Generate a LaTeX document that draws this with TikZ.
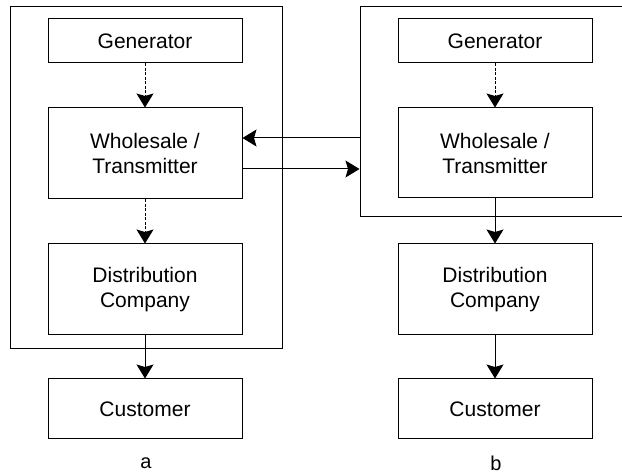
\documentclass[tikz,border=0pt]{standalone}
\usepackage{fontspec}
\setmainfont{Liberation Sans}
\usetikzlibrary{arrows.meta}
\begin{document}
\begin{tikzpicture}[x=1pt,y=-1pt,
  block/.style={draw, line width=1pt, minimum width=194pt, align=center,
    font=\fontsize{21}{25}\selectfont, inner sep=0pt},
  group/.style={draw, line width=1pt, inner sep=0pt},
  arr/.style={line width=1pt, -{Stealth[length=14pt,width=17pt,inset=2.5pt]}},
  dasharr/.style={arr, dash pattern=on 3pt off 1.5pt},
  caption/.style={font=\fontsize{20}{24}\selectfont}
]
\useasboundingbox (0,0) rectangle (622,473);

% enclosing groups
\node[group, minimum width=272pt, minimum height=342pt] (ga) at (146,178) {};
\node[group, minimum width=265pt, minimum height=210pt] (gb) at (492.5,112) {};

% column a
\node[block, minimum height=44pt] (gena) at (145,41) {Generator};
\node[block, minimum height=91pt] (wa) at (145,153.5) {Wholesale /\\Transmitter};
\node[block, minimum height=91pt] (da) at (145,289.5) {Distribution\\Company};
\node[block, minimum height=60pt] (ca) at (145,409) {Customer};
\node[caption] (la) at (146,463) {a};

% column b
\node[block, minimum height=44pt] (genb) at (495,41) {Generator};
\node[block, minimum height=90pt] (wb) at (495,153) {Wholesale /\\Transmitter};
\node[block, minimum height=91pt] (db) at (495,289.5) {Distribution\\Company};
\node[block, minimum height=60pt] (cb) at (495,409) {Customer};
\node[caption] (lb) at (496,463) {b};

% flows in column a
\draw[dasharr] (gena) -- (wa);
\draw[dasharr] (wa) -- (da);
\draw[arr] (da) -- (ca);

% flows in column b
\draw[dasharr] (genb) -- (wb);
\draw[arr] (wb) -- (db);
\draw[arr] (db) -- (cb);

% exchange between the two groups
\draw[arr] (gb.west |- 0,138) -- (wa.east |- 0,138);
\draw[arr] (wa.east |- 0,169) -- (gb.west |- 0,169);
\end{tikzpicture}
\end{document}
